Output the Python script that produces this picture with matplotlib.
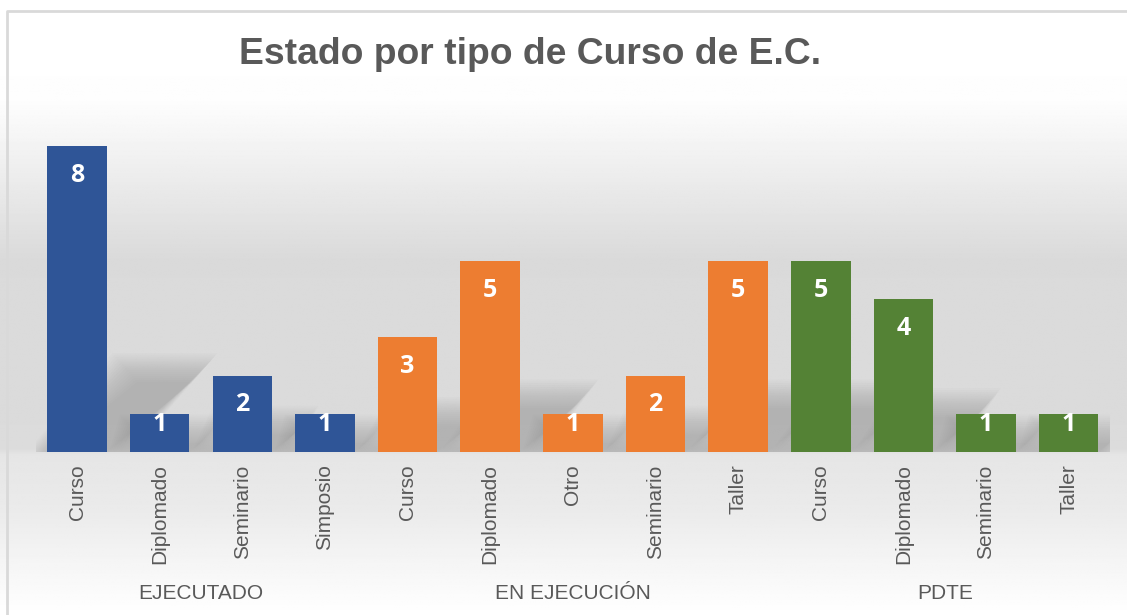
import numpy as np
import matplotlib
matplotlib.use("Agg")
import matplotlib.pyplot as plt
from matplotlib.patches import Polygon

# data
groups = ["EJECUTADO", "EN EJECUCIÓN", "PDTE"]
ejecutado_tipos = ["Curso", "Diplomado", "Seminario", "Simposio"]
ejecutado_vals = [8, 1, 2, 1]
en_ejecucion_tipos = ["Curso", "Diplomado", "Otro", "Seminario", "Taller"]
en_ejecucion_vals = [3, 5, 1, 2, 5]
pdte_tipos = ["Curso", "Diplomado", "Seminario", "Taller"]
pdte_vals = [5, 4, 1, 1]

colors = ["#2F5597", "#ED7D31", "#548235"]
text_gray = "#595959"

plt.rcParams['font.family'] = ['Liberation Sans', 'DejaVu Sans']

fig = plt.figure(figsize=(11.27, 6.15), dpi=100)

# background gradient over the whole figure
bg = fig.add_axes([0, 0, 1, 1], zorder=-10)
ys = np.linspace(0, 1, 400)
stops_y = [0.0, 0.16, 0.42, 0.73, 0.74, 0.83, 1.0]
stops_v = [1.0, 0.995, 0.855, 0.86, 0.90, 0.92, 1.0]
grad = np.interp(ys, stops_y, stops_v)[:, None] * np.ones((1, 10))
bg.imshow(grad, cmap="gray", vmin=0, vmax=1, aspect="auto", extent=[0, 1, 0, 1], origin="upper")
bg.set_xlim(0, 1)
bg.set_ylim(0, 1)
bg.axis("off")
# chart border
bg.plot([6.5 / 1127, 6.5 / 1127, 1.0], [0.0, 1 - 10.5 / 615, 1 - 10.5 / 615],
        color="#d9d9d9", lw=2.0, solid_capstyle="butt")

ax = fig.add_axes([35.7 / 1127, 163 / 615, 1074.3 / 1127, 344 / 615])
ax.patch.set_alpha(0)

all_tipos = ejecutado_tipos + en_ejecucion_tipos + pdte_tipos
all_vals = ejecutado_vals + en_ejecucion_vals + pdte_vals
group_sizes = [len(ejecutado_tipos), len(en_ejecucion_tipos), len(pdte_tipos)]
bar_colors = []
for c, n in zip(colors, group_sizes):
    bar_colors += [c] * n

x = np.arange(len(all_vals))
w = 0.72

# soft perspective shadows (stacked translucent layers to fake a blur)
for xi, v in zip(x, all_vals):
    for k in range(16):
        grow = 0.02 * k
        sx = 0.13 * v
        sy = 0.23 * v
        pts = [(xi - w / 2 + 0.05 - grow, 0), (xi + w / 2 + grow, 0),
               (xi + w / 2 + sx + grow, sy + grow * 2.5), (xi - w / 2 + 0.05 + sx - grow, sy + grow * 2.5)]
        ax.add_patch(Polygon(pts, closed=True, facecolor="#7a7a7a", edgecolor="none",
                             alpha=0.028, zorder=1))

bars = ax.bar(x, all_vals, width=w, color=bar_colors, zorder=3)

for xi, v in zip(x, all_vals):
    if v > 1:
        ly = v - 0.77
    else:
        ly = v - 0.29
    ax.text(xi, ly, str(v), ha="center", va="center", color="white",
            fontsize=18, fontweight="bold", family=["Open Sans", "DejaVu Sans"], zorder=4)

ax.set_xlim(-0.5, len(all_vals) - 0.5)
ax.set_ylim(0, 9)
ax.set_yticks([])
ax.set_xticks(x)
ax.set_xticklabels(all_tipos, rotation=90, fontsize=15, color=text_gray, va="top")
ax.tick_params(axis="x", length=0, pad=9)
for s in ax.spines.values():
    s.set_visible(False)

# group labels
start = 0
for g, n in zip(groups, group_sizes):
    center = start + (n - 1) / 2
    ax.text(center, -3.7, g, ha="center", va="center", fontsize=15, color=text_gray)
    start += n

fig.text(530 / 1127, 1 - 55 / 615, "Estado por tipo de Curso de E.C.", ha="center", va="center",
         fontsize=26.8, fontweight="bold", color=text_gray)

fig.savefig("out.png", dpi=100)
